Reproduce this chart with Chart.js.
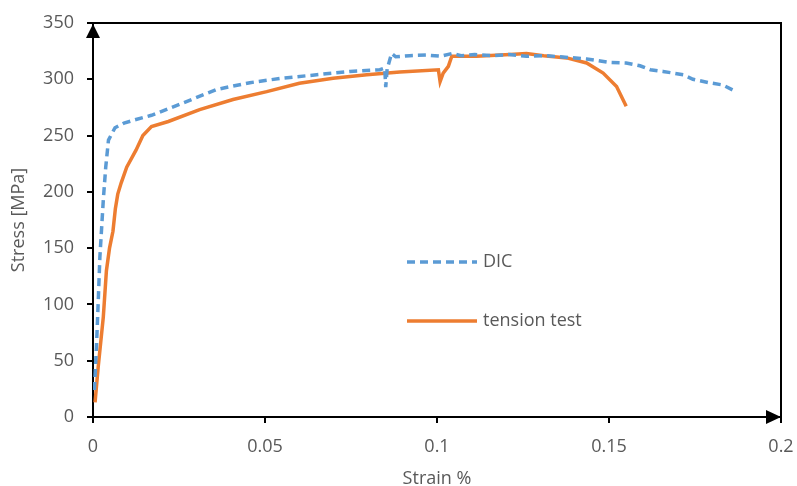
<!DOCTYPE html>
<html>
<head>
<meta charset="utf-8">
<script src="https://cdn.jsdelivr.net/npm/chart.js@4.4.1/dist/chart.umd.min.js"></script>
<style>
body { margin: 0; background: #fff; }
</style>
</head>
<body>
<canvas id="grafico" width="797" height="486"></canvas>
<script>
// DIC (leitura do grafico)
var dicStrain = [0.0004, 0.001, 0.0015, 0.002, 0.003, 0.0037, 0.0045, 0.0064, 0.009, 0.0122, 0.017, 0.022, 0.027,
    0.036, 0.0456, 0.055, 0.065, 0.0747, 0.0834, 0.0848, 0.0851, 0.0855, 0.0868, 0.088, 0.092, 0.097, 0.101, 0.1045,
    0.107, 0.111, 0.116, 0.121, 0.126, 0.1315, 0.1358, 0.1435, 0.150, 0.155, 0.159, 0.162, 0.1657, 0.1716, 0.1744,
    0.179, 0.183, 0.187];
var dicStress = [24, 62, 101, 142, 193, 222, 246, 257, 261, 264, 268, 274, 280,
    291, 297, 301, 304, 307, 308.5, 310, 293, 309, 323, 320, 321, 321.5, 320.5, 323,
    321, 322, 321, 322, 320.5, 321, 320, 318, 315, 314.5, 312, 308.5, 307, 304, 300,
    297, 295, 289];

// ensaio de tracao
var tensionStrain = [0.0006, 0.0015, 0.003, 0.0039, 0.0048, 0.0058, 0.0065, 0.0072, 0.0082, 0.0098, 0.0125, 0.0145,
    0.017, 0.0219, 0.031, 0.0407, 0.0505, 0.060, 0.0698, 0.0796, 0.0892, 0.1004, 0.1009, 0.1018, 0.1033, 0.1043,
    0.1115, 0.1212, 0.126, 0.131, 0.1377, 0.1435, 0.1483, 0.1522, 0.155];
var tensionStress = [13, 44, 89, 130, 150, 165, 185, 198, 208, 222, 237, 250,
    258, 262.5, 273, 282, 289, 296.5, 301, 304, 306.5, 308.5, 298, 305.5, 311.5, 320.5,
    320.5, 322, 323, 321, 319, 314.5, 305.5, 293.5, 276];

var xTicks = [0, 0.05, 0.1, 0.15, 0.2];
var yTicks = [0, 50, 100, 150, 200, 250, 300, 350];

function pontos(xs, ys) {
    var r = [];
    for (var i = 0; i < xs.length; i++) r.push({ x: xs[i], y: ys[i] });
    return r;
}

var fonte = '"Open Sans", sans-serif';
var cinza = '#595959';

// caixa, setas e legenda dentro do grafico
var extras = {
    id: 'extras',
    afterDraw: function (chart) {
        var ctx = chart.ctx, a = chart.chartArea;
        ctx.save();
        ctx.strokeStyle = '#000';
        ctx.lineWidth = 2;
        ctx.beginPath();
        ctx.moveTo(a.left, a.top);
        ctx.lineTo(a.right, a.top);
        ctx.lineTo(a.right, a.bottom);
        ctx.stroke();

        ctx.fillStyle = '#000';
        ctx.beginPath();
        ctx.moveTo(a.left, a.top + 1);
        ctx.lineTo(a.left - 7, a.top + 15);
        ctx.lineTo(a.left + 7, a.top + 15);
        ctx.fill();
        ctx.beginPath();
        ctx.moveTo(a.right, a.bottom);
        ctx.lineTo(a.right - 15, a.bottom - 7);
        ctx.lineTo(a.right - 15, a.bottom + 7);
        ctx.fill();

        var ys = [262, 321];
        chart.data.datasets.forEach(function (ds, i) {
            ctx.strokeStyle = ds.borderColor;
            ctx.lineWidth = ds.borderWidth;
            ctx.setLineDash(ds.borderDash || []);
            ctx.beginPath();
            ctx.moveTo(407, ys[i]);
            ctx.lineTo(477, ys[i]);
            ctx.stroke();
            ctx.setLineDash([]);
            ctx.fillStyle = cinza;
            ctx.font = '18px ' + fonte;
            ctx.textBaseline = 'middle';
            ctx.fillText(ds.label, 483, ys[i]);
        });
        ctx.restore();
    }
};

new Chart(document.getElementById('grafico'), {
    type: 'scatter',
    data: {
        datasets: [{
            label: 'DIC',
            data: pontos(dicStrain, dicStress),
            showLine: true,
            borderColor: '#5B9BD5',
            borderWidth: 3.5,
            borderDash: [8, 5],
            pointRadius: 0,
            tension: 0
        }, {
            label: 'tension test',
            data: pontos(tensionStrain, tensionStress),
            showLine: true,
            borderColor: '#ED7D31',
            borderWidth: 3.5,
            pointRadius: 0,
            tension: 0
        }]
    },
    options: {
        responsive: false,
        animation: false,
        layout: { padding: { top: 23, right: 16, left: 0, bottom: 0 } },
        plugins: {
            legend: { display: false },
            tooltip: { enabled: false }
        },
        scales: {
            x: {
                type: 'linear',
                min: xTicks[0],
                max: xTicks[xTicks.length - 1],
                afterBuildTicks: function (s) { s.ticks = xTicks.map(function (v) { return { value: v }; }); },
                afterFit: function (s) { s.height = 69; s.paddingLeft = 0; s.paddingRight = 0; },
                ticks: {
                    color: cinza,
                    font: { family: fonte, size: 18 },
                    padding: 13,
                    callback: function (v) { return String(v); }
                },
                grid: { drawOnChartArea: false, color: '#000', lineWidth: 2, tickLength: 6 },
                border: { color: '#000', width: 2 },
                title: {
                    display: true,
                    text: 'Strain %',
                    color: cinza,
                    font: { family: fonte, size: 18, lineHeight: 0.8 },
                    padding: 0
                }
            },
            y: {
                min: yTicks[0],
                max: yTicks[yTicks.length - 1],
                afterBuildTicks: function (s) { s.ticks = yTicks.map(function (v) { return { value: v }; }); },
                afterFit: function (s) { s.width = 93; s.paddingTop = 0; s.paddingBottom = 0; },
                ticks: {
                    color: cinza,
                    font: { family: fonte, size: 18 },
                    padding: 13
                },
                grid: { drawOnChartArea: false, color: '#000', lineWidth: 2, tickLength: 6 },
                border: { color: '#000', width: 2 },
                title: {
                    display: true,
                    text: 'Stress [MPa]',
                    color: cinza,
                    font: { family: fonte, size: 18 },
                    padding: { top: 8, bottom: 0 }
                }
            }
        }
    },
    plugins: [extras]
});
</script>
</body>
</html>
